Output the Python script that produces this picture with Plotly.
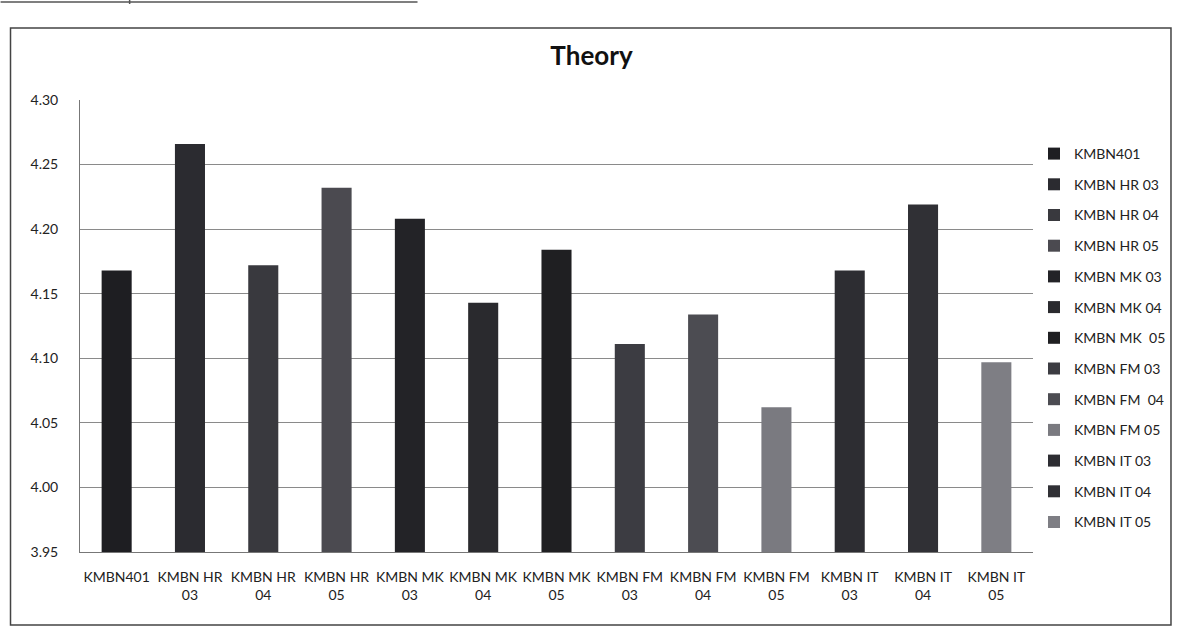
import plotly.graph_objects as go

categories = ["KMBN401", "KMBN HR 03", "KMBN HR 04", "KMBN HR 05", "KMBN MK 03",
              "KMBN MK 04", "KMBN MK  05", "KMBN FM 03", "KMBN FM  04", "KMBN FM 05",
              "KMBN IT 03", "KMBN IT 04", "KMBN IT 05"]
tick_labels = ["KMBN401", "KMBN HR<br>03", "KMBN HR<br>04", "KMBN HR<br>05", "KMBN MK<br>03",
               "KMBN MK<br>04", "KMBN MK<br>05", "KMBN FM<br>03", "KMBN FM<br>04", "KMBN FM<br>05",
               "KMBN IT<br>03", "KMBN IT<br>04", "KMBN IT<br>05"]
values = [4.168, 4.266, 4.172, 4.232, 4.208, 4.143, 4.184, 4.111, 4.134, 4.062, 4.168, 4.219, 4.097]
colors = ["#1e1e22", "#2b2b30", "#39393e", "#4b4a50", "#232327", "#2a2a2e", "#1f1f22",
          "#3c3c42", "#4c4c52", "#7a7a80", "#2d2d32", "#303035", "#7e7e84"]

FONT = "Lato, 'Open Sans', sans-serif"

fig = go.Figure()
for i, (cat, val, col) in enumerate(zip(categories, values, colors)):
    fig.add_trace(go.Bar(
        x=[tick_labels[i]], y=[val], name=cat, marker=dict(color=col, line=dict(width=0)),
        legendgroup=f"g{i}", showlegend=True,
    ))

W, H = 1183, 635
L, R, T, B = 80, 143, 100, 83
pw, ph = W - L - R, H - T - B

def px(x):
    return (x - L) / pw

def py(y):
    return (H - B - y) / ph

fig.update_layout(
    width=W, height=H,
    margin=dict(l=L, r=R, t=T, b=B),
    paper_bgcolor="white", plot_bgcolor="white",
    barmode="overlay", bargap=0.59,
    font=dict(family=FONT, size=14, color="#222222"),
    title=dict(text="<b>Theory</b>", x=0.5, xanchor="center", y=1 - 56 / H, yanchor="middle",
               font=dict(family=FONT, size=26, color="#111111")),
    xaxis=dict(
        type="category", categoryorder="array", categoryarray=tick_labels,
        showgrid=False, showline=True, linecolor="#777777", linewidth=1,
        ticks="", tickfont=dict(size=14, color="#222222"), tickangle=0,
        ticklabelstandoff=12,
    ),
    yaxis=dict(
        range=[3.95, 4.30], dtick=0.05, tick0=3.95, tickformat=".2f",
        showgrid=True, gridcolor="#8a8a8a", gridwidth=1,
        showline=True, linecolor="#777777", linewidth=1,
        ticks="", tickfont=dict(size=14, color="#222222"), zeroline=False,
        ticklabelstandoff=18,
    ),
    legend=dict(
        x=px(1041), xanchor="left", y=py(138), yanchor="top",
        font=dict(size=14, color="#222222"), tracegroupgap=9.5,
        itemwidth=30, bgcolor="rgba(0,0,0,0)",
    ),
    shapes=[
        dict(type="rect", xref="paper", yref="paper",
             x0=px(10), x1=px(1179), y0=py(625), y1=py(28),
             line=dict(color="#444444", width=1.5), fillcolor="rgba(0,0,0,0)", layer="below"),
        dict(type="line", xref="paper", yref="paper",
             x0=px(0), x1=px(420), y0=py(2), y1=py(2),
             line=dict(color="#555555", width=1.5)),
        dict(type="line", xref="paper", yref="paper",
             x0=px(130), x1=px(130), y0=py(0), y1=py(4),
             line=dict(color="#555555", width=1.5)),
    ],
)

fig.write_html("out.html",
               config={"displayModeBar": False},
               post_script="document.body.style.margin='0';document.body.style.overflow='hidden';")
